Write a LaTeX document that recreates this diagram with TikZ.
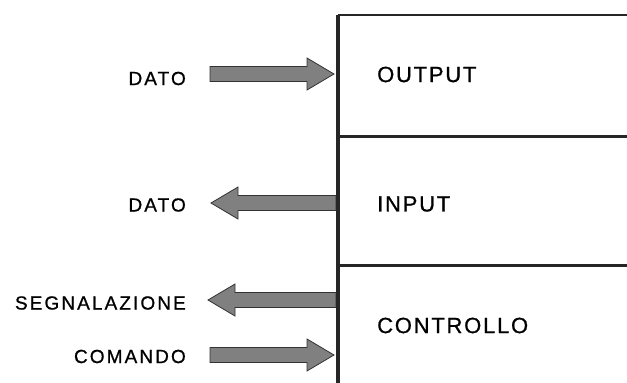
\documentclass[tikz,border=0pt]{standalone}
\usepackage{fontspec}
\setmainfont{Liberation Sans}
\newfontfamily\lblfont[LetterSpace=11,FakeBold=0.8]{Liberation Sans}
\newfontfamily\boxfont[LetterSpace=8,FakeBold=0.8]{Liberation Sans}
\usetikzlibrary{calc}
\tikzset{
  sidelabel/.style={anchor=east, inner sep=0pt, font=\lblfont\fontsize{19}{22}\selectfont},
  boxlabel/.style={anchor=west, inner sep=0pt, font=\boxfont\fontsize{22}{25}\selectfont},
  busline/.style={draw=black!85, line width=4pt},
  frameline/.style={draw=black!85, line width=2.6pt},
  fatarrow/.style={fill=black!50, draw=black!80, line width=0.8pt, line join=miter},
}
\begin{document}
\begin{tikzpicture}[x=1pt,y=-1pt]
\useasboundingbox (0,0) rectangle (627,383);
% frame
\coordinate (top) at (337.5,15);
\coordinate (bot) at (337.5,383);
\coordinate (tr) at (627,15);
\coordinate (d1l) at (337.5,136.5);
\coordinate (d1r) at (627,136.5);
\coordinate (d2l) at (337.5,265.5);
\coordinate (d2r) at (627,265.5);
\draw[frameline] (d1l) -- (d1r);
\draw[frameline] (d2l) -- (d2r);
\draw[frameline] (top) -- (tr);
% box labels
\node[boxlabel] (out) at (377,74.5) {OUTPUT};
\node[boxlabel] (inp) at (377,204) {INPUT};
\node[boxlabel] (ctl) at (377,325.5) {CONTROLLO};
% side labels
\node[sidelabel] (dato1) at (186,78.5) {DATO};
\node[sidelabel] (dato2) at (186,205) {DATO};
\node[sidelabel] (segn) at (186,303) {SEGNALAZIONE};
\node[sidelabel] (cmd) at (186,356.5) {COMANDO};
% arrow endpoints
\coordinate (a1s) at (210,74);   \coordinate (a1e) at (334,74);
\coordinate (a2s) at (336,203);  \coordinate (a2e) at (211,203);
\coordinate (a3s) at (336,300);  \coordinate (a3e) at (208,300);
\coordinate (a4s) at (210,355);  \coordinate (a4e) at (334,355);
% right-pointing arrows
\foreach \s/\e in {a1s/a1e, a4s/a4e}{
  \draw[fatarrow] ($(\s)+(0,-7.5)$) -- ($(\e)+(-27,-7.5)$) -- ($(\e)+(-27,-16)$)
    -- (\e) -- ($(\e)+(-27,16)$) -- ($(\e)+(-27,7.5)$) -- ($(\s)+(0,7.5)$) -- cycle;
}
% left-pointing arrows
\foreach \s/\e in {a2s/a2e, a3s/a3e}{
  \draw[fatarrow] ($(\s)+(0,-7.5)$) -- ($(\e)+(27,-7.5)$) -- ($(\e)+(27,-16)$)
    -- (\e) -- ($(\e)+(27,16)$) -- ($(\e)+(27,7.5)$) -- ($(\s)+(0,7.5)$) -- cycle;
}
\draw[busline] (bot) -- (top);
\end{tikzpicture}
\end{document}
